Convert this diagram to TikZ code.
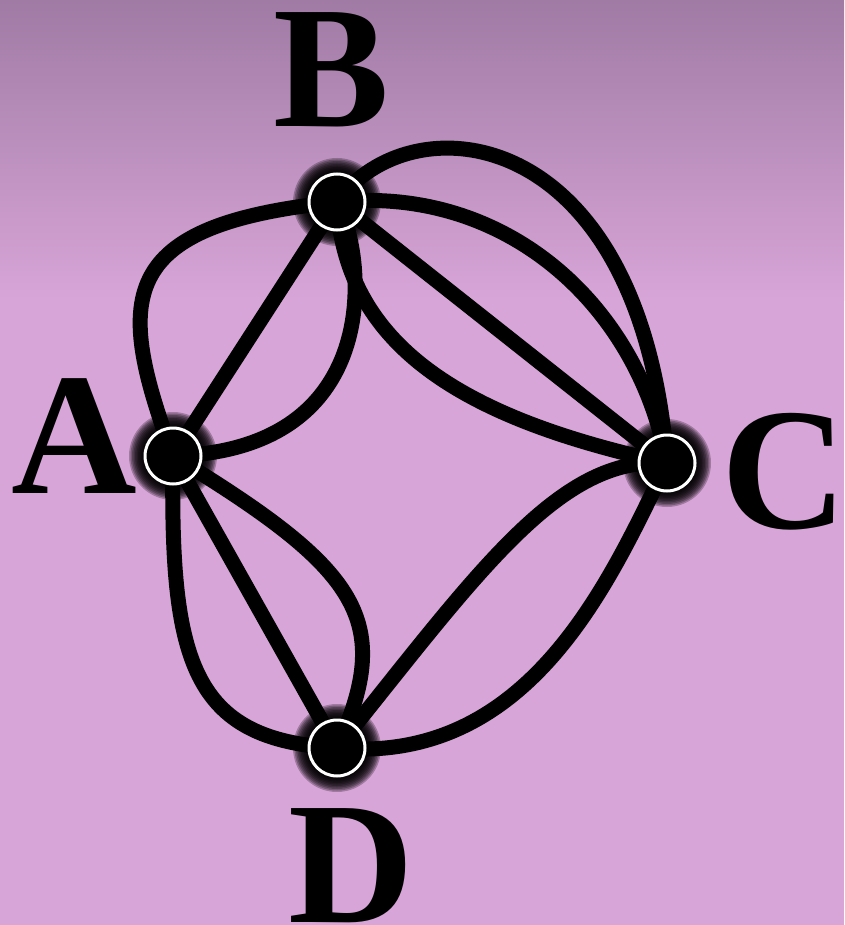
\documentclass[tikz,border=0pt]{standalone}
\usepackage{fontspec}
\setmainfont{Liberation Serif}
\definecolor{bgtop}{HTML}{A07BA4}
\definecolor{bgbot}{HTML}{D8A5D8}
\begin{document}
\begin{tikzpicture}[x=1pt,y=-1pt,
  edge/.style={line width=15pt, black},
  vert/.style={circle, fill=black, draw=white, line width=3pt, minimum size=56pt, inner sep=0pt},
  lab/.style={font=\fontsize{174}{174}\selectfont\bfseries, inner sep=0pt, anchor=center}]
\useasboundingbox (0,0) rectangle (844,925);
\fill[bgbot] (0,0) rectangle (844,925);
\shade[top color=bgtop, bottom color=bgbot] (0,0) rectangle (844,300);
% vertex positions
\coordinate (pA) at (173,456);
\coordinate (pB) at (337,202);
\coordinate (pC) at (667,463);
\coordinate (pD) at (337,748);
% edges
\draw[edge] (pA) -- (pB);
\draw[edge] (pA) .. controls (116,300) and (112,225) .. (pB);
\draw[edge] (pA) .. controls (390,450) and (365,250) .. (pB);
\draw[edge] (pB) -- (pC);
\draw[edge] (pB) .. controls (345,350) and (470,420) .. (pC);
\draw[edge] (pB) .. controls (510,185) and (640,310) .. (pC);
\draw[edge] (pB) .. controls (410,100) and (640,120) .. (pC);
\draw[edge] (pA) -- (pD);
\draw[edge] (pA) .. controls (170,660) and (190,740) .. (pD);
\draw[edge] (pA) .. controls (360,570) and (395,620) .. (pD);
\draw[edge] (pC) .. controls (560,455) and (480,570) .. (pD);
\draw[edge] (pC) .. controls (610,580) and (530,765) .. (pD);
% glows
\foreach \p in {pA,pB,pC,pD}{
  \foreach \r in {44,42.5,...,29}{
    \fill[black, opacity=0.26] (\p) circle[radius=\r];
  }
}
% vertices
\node[vert] (A) at (pA) {};
\node[vert] (B) at (pB) {};
\node[vert] (C) at (pC) {};
\node[vert] (D) at (pD) {};
% labels
\node[lab] (lA) at (74,436) {A};
\node[lab] (lB) at (332,70) {B};
\node[lab] (lC) at (784,472) {C};
\node[lab] (lD) at (351,866) {D};
\end{tikzpicture}
\end{document}
